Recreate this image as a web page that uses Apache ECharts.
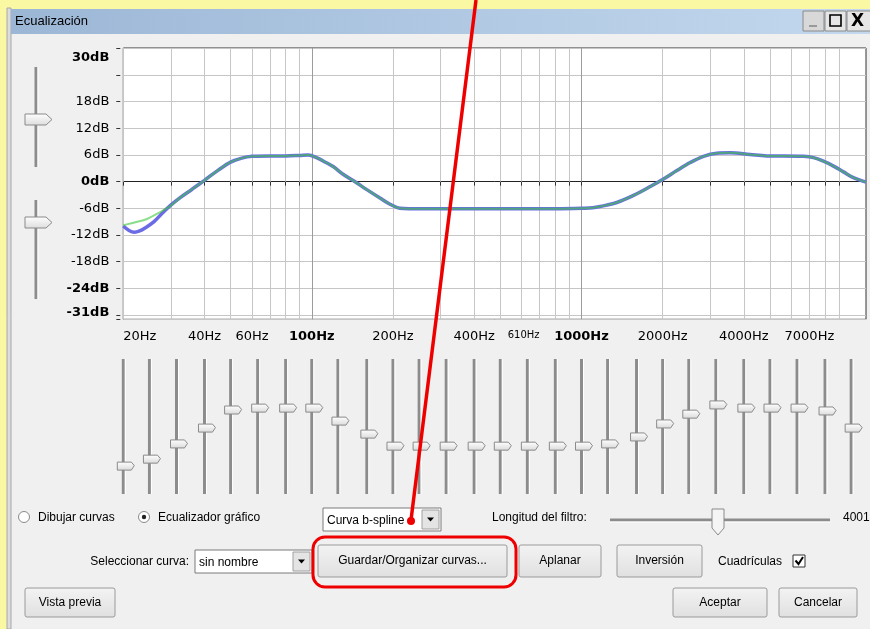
<!DOCTYPE html>
<html><head><meta charset="utf-8">
<script src="https://cdn.jsdelivr.net/npm/echarts@6/dist/echarts.min.js"></script>
<style>html,body{margin:0;padding:0;background:#f0f0f0;overflow:hidden}#c{width:870px;height:629px}</style>
</head><body><div id="c"></div>
<script>
// ---------- data ----------
const blueFreqs = [20,21,22,23,24,26,28,30,32.5,36,40,45,50,55,60,70,80,90,97,105,113,120,131,146,160,179,195,212,230,300,500,800,1016,1100,1173,1352,1560,1800,2013,2258,2531,2834,3175,3558,4220,4865,5611,6657,7250,7890,8600,9360,10190,11350];
const blueDb    = [-10.0,-11.0,-11.4,-11.1,-10.5,-9.0,-7.0,-5.3,-3.6,-1.7,0.3,2.6,4.4,5.3,5.7,5.8,5.8,5.9,6.0,5.3,4.3,3.4,1.6,-0.2,-1.8,-3.7,-5.1,-6.0,-6.1,-6.1,-6.1,-6.1,-6.0,-5.9,-5.6,-4.7,-3.1,-1.1,0.6,2.5,4.3,5.7,6.4,6.5,6.1,5.8,5.8,5.7,5.4,4.6,3.5,2.2,0.9,-0.1];
const greenFreqs = [20,21,22,24.5,27.5,30,32.5,36,40,45,50,55,60,70,80,90,97,105,113,120,131,146,160,179,195,212,230,300,500,800,1016,1100,1173,1352,1560,1800,2013,2258,2531,2834,3175,3558,4220,4865,5611,6657,7250,7890,8600,9360,10190,11350];
const greenDb    = [-9.8,-9.5,-9.2,-8.4,-6.8,-5.4,-3.6,-1.7,0.3,2.6,4.4,5.3,5.7,5.8,5.8,5.9,6.0,5.3,4.3,3.4,1.6,-0.2,-1.8,-3.7,-5.1,-6.0,-6.1,-6.1,-6.1,-6.1,-6.0,-5.9,-5.6,-4.7,-3.1,-1.1,0.6,2.5,4.3,5.7,6.4,6.5,6.1,5.8,5.8,5.7,5.4,4.6,3.5,2.2,0.9,-0.1];
const sliderFreqs = [20,25,31.5,40,50,63,80,100,125,160,200,250,315,400,500,630,800,1000,1250,1600,2000,2500,3150,4000,5000,6300,8000,10000];
const sliderDb    = [-12.5,-10.3,-5.5,-0.5,5.2,5.8,5.8,5.8,1.7,-2.4,-6.2,-6.2,-6.2,-6.2,-6.2,-6.2,-6.2,-6.2,-5.5,-3.3,0.8,3.9,6.8,5.8,5.8,5.8,4.9,-0.5];
const xTickValues  = [20,30,40,50,60,70,80,90,100,200,300,400,500,600,700,800,900,1000,2000,3000,4000,5000,6000,7000,8000,9000];
const xLabelValues = [20,40,60,100,200,400,610,1000,2000,4000,7000];
const xMajorValues = [100,1000];
const yTickValues  = [30,24,18,12,6,0,-6,-12,-18,-24,-30,-31];
const yLabelValues = [30,18,12,6,0,-6,-12,-18,-24,-31];
const yZeroValues  = [0];
const xBoldLabels = [100,1000];
const xSmallLabels = [610];
const yBoldLabels = [0,-24];

const F_MIN = 20, F_MAX = 11350, DB_MIN = -31, DB_MAX = 30.1, SL_MIN = -21.3, SL_MAX = 21.3;
const UI = '12px "Liberation Sans", Arial, sans-serif';
const AX = '"DejaVu Sans", sans-serif';

// ---------- UI helpers ----------
function txt(x, y, s, opt) {
  opt = opt || {};
  return {type:'text', x:x, y:y, z: opt.z || 5, style:{text:s, fill:opt.fill||'#000', font:opt.font||UI,
    textAlign:opt.align||'left', textVerticalAlign:'middle', align:opt.align||'left', verticalAlign:'middle'}};
}
function button(x, y, w, h, label) {
  return [
    {type:'rect', z:4, shape:{x:x, y:y, width:w, height:h, r:2}, style:{fill:{type:'linear',x:0,y:0,x2:0,y2:1,colorStops:[{offset:0,color:'#f3f3f3'},{offset:1,color:'#e0e0e0'}]}, stroke:'#9a9a9a', lineWidth:1}},
    txt(x + w/2, y + h/2, label, {align:'center'})
  ];
}
function dropdown(x, y, w, h, label) {
  return [
    {type:'rect', z:4, shape:{x:x, y:y, width:w, height:h}, style:{fill:'#fff', stroke:'#7a7a7a', lineWidth:1}},
    {type:'rect', z:4, shape:{x:x+w-19, y:y+2, width:17, height:h-4}, style:{fill:'#e4e4e4', stroke:'#a0a0a0', lineWidth:1}},
    {type:'polygon', z:5, shape:{points:[[x+w-14,y+h/2-2],[x+w-7,y+h/2-2],[x+w-10.5,y+h/2+2]]}, style:{fill:'#000'}},
    txt(x+4, y+h/2+1, label)
  ];
}
function vThumb(x, y) {
  return {type:'polygon', z:5, shape:{points:[[x-11,y-5.5],[x+10,y-5.5],[x+16,y],[x+10,y+5.5],[x-11,y+5.5]]},
    style:{fill:{type:'linear',x:0,y:0,x2:0,y2:1,colorStops:[{offset:0,color:'#ffffff'},{offset:1,color:'#dcdcdc'}]}, stroke:'#8a8a8a', lineWidth:1}};
}
function vTrack(x, y1, y2) {
  return [
    {type:'line', z:4, shape:{x1:x, y1:y1, x2:x, y2:y2}, style:{stroke:'#8c8c8c', lineWidth:3}},
    {type:'line', z:4, shape:{x1:x+2, y1:y1, x2:x+2, y2:y2}, style:{stroke:'#ffffff', lineWidth:1}}
  ];
}

const graphics = [].concat(
  [{type:'rect', z:1, shape:{x:0, y:0, width:870, height:9}, style:{fill:'#fbf8a3'}},
   {type:'rect', z:1, shape:{x:0, y:0, width:7, height:629}, style:{fill:'#fbf8a3'}},
   {type:'rect', z:1, shape:{x:7, y:8, width:4, height:621}, style:{fill:'#dcdcdc', stroke:'#a8a8a8', lineWidth:1}},
   {type:'rect', z:2, shape:{x:11, y:9, width:859, height:25}, style:{fill:{type:'linear',x:0,y:0,x2:1,y2:0,colorStops:[{offset:0,color:'#9cb7d6'},{offset:1,color:'#c3d8ee'}]}}},
   txt(15, 21.5, 'Ecualización', {font:'13px "Liberation Sans", Arial, sans-serif'}),
   {type:'rect', z:3, shape:{x:803, y:11, width:21, height:20}, style:{fill:'#d8d8d8', stroke:'#8a8a8a', lineWidth:1}},
   {type:'line', z:4, shape:{x1:809, y1:26, x2:817, y2:26}, style:{stroke:'#9a9a9a', lineWidth:2}},
   {type:'rect', z:3, shape:{x:825, y:11, width:21, height:20}, style:{fill:'#e6e6e6', stroke:'#8a8a8a', lineWidth:1}},
   {type:'rect', z:4, shape:{x:830, y:15, width:11, height:11}, style:{fill:'none', stroke:'#000', lineWidth:1.6}},
   {type:'rect', z:3, shape:{x:847, y:11, width:26, height:20}, style:{fill:'#e6e6e6', stroke:'#8a8a8a', lineWidth:1}},
   txt(851, 22, 'X', {font:'bold 17px "DejaVu Sans", sans-serif'})],
  vTrack(36, 67, 167), [vThumb(36, 119.5)],
  vTrack(36, 200, 299), [vThumb(36, 222.5)],
  [{type:'circle', z:4, shape:{cx:24, cy:517, r:5.5}, style:{fill:'#fff', stroke:'#8a8a8a', lineWidth:1}},
   txt(38, 518, 'Dibujar curvas'),
   {type:'circle', z:4, shape:{cx:144, cy:517, r:5.5}, style:{fill:'#fff', stroke:'#8a8a8a', lineWidth:1}},
   {type:'circle', z:5, shape:{cx:144, cy:517, r:2.2}, style:{fill:'#222'}},
   txt(158, 518, 'Ecualizador gráfico')],
  dropdown(323, 508, 118, 23, 'Curva b-spline'),
  [txt(492, 518, 'Longitud del filtro:'),
   {type:'line', z:4, shape:{x1:610, y1:520, x2:830, y2:520}, style:{stroke:'#8c8c8c', lineWidth:3}},
   {type:'line', z:4, shape:{x1:610, y1:522, x2:830, y2:522}, style:{stroke:'#ffffff', lineWidth:1}},
   {type:'polygon', z:5, shape:{points:[[712,509],[724,509],[724,528],[718,535],[712,528]]}, style:{fill:'#f4f4f4', stroke:'#8a8a8a', lineWidth:1}},
   txt(843, 518, '4001')],
  [txt(189, 562, 'Seleccionar curva:', {align:'right'})],
  dropdown(195, 550, 117, 23, 'sin nombre'),
  button(318, 545, 189, 32, 'Guardar/Organizar curvas...'),
  button(519, 545, 82, 32, 'Aplanar'),
  button(617, 545, 85, 32, 'Inversión'),
  [txt(718, 562, 'Cuadrículas'),
   {type:'rect', z:4, shape:{x:793, y:555, width:12, height:12}, style:{fill:'#fff', stroke:'#333', lineWidth:1}},
   {type:'polyline', z:5, shape:{points:[[795.5,560.5],[798.5,564],[803,557]]}, style:{stroke:'#000', lineWidth:2, fill:'none'}}],
  button(25, 588, 90, 29, 'Vista previa'),
  button(673, 588, 94, 29, 'Aceptar'),
  button(779, 588, 78, 29, 'Cancelar'),
  [{type:'line', z:100, shape:{x1:476, y1:0, x2:411, y2:520}, style:{stroke:'#ee0000', lineWidth:3.5}},
   {type:'circle', z:100, shape:{cx:411, cy:521, r:4}, style:{fill:'#ee0000'}},
   {type:'rect', z:100, shape:{x:313, y:537, width:203, height:50, r:12}, style:{fill:'none', stroke:'#ee0000', lineWidth:3}}]
);

const toPairs = (a, b) => a.map((v, i) => [v, b[i]]);

const chart = echarts.init(document.getElementById('c'), null, {renderer:'canvas', width:870, height:629});
chart.setOption({
  backgroundColor:'#f0f0f0',
  animation:false,
  graphic:{elements:graphics},
  grid:[
    {left:123.3, top:48, width:742.7, height:271.3, show:true, backgroundColor:'#fff', borderColor:'#333', borderWidth:1, z:0},
    {left:123.3, top:359, width:742.7, height:135, show:false}
  ],
  xAxis:[
    {type:'log', logBase:10, min:F_MIN, max:F_MAX, gridIndex:0,
     axisLine:{show:false},
     axisTick:{show:true, length:4, customValues:xTickValues, lineStyle:{color:'#333'}},
     splitLine:{show:true, lineStyle:{color:'#c6c6c6', width:1}},
     axisLabel:{show:true, customValues:xLabelValues, margin:11, color:'#000', fontFamily:AX, fontSize:13, alignMinLabel:'left',
       formatter:function(v){ v = Math.round(v); const s = v + 'Hz';
         if (xBoldLabels.indexOf(v) >= 0) return '{b|' + s + '}';
         if (xSmallLabels.indexOf(v) >= 0) return '{s|' + s + '}';
         return s; },
       rich:{b:{fontWeight:'bold', fontSize:13, fontFamily:AX, color:'#000'}, s:{fontSize:10, fontFamily:AX, color:'#000'}}}},
    {type:'log', logBase:10, min:F_MIN, max:F_MAX, gridIndex:0,
     axisLine:{show:false}, axisLabel:{show:false},
     axisTick:{show:false, customValues:xMajorValues},
     splitLine:{show:true, lineStyle:{color:'#9c9c9c', width:1}}},
    {type:'log', logBase:10, min:F_MIN, max:F_MAX, gridIndex:1, show:false}
  ],
  yAxis:[
    {type:'value', min:DB_MIN, max:DB_MAX, gridIndex:0, offset:3,
     axisLine:{show:false},
     axisTick:{show:true, length:4, customValues:yTickValues, lineStyle:{color:'#333'}},
     splitLine:{show:true, lineStyle:{color:'#c6c6c6', width:1}},
     axisLabel:{show:true, customValues:yLabelValues, margin:11, color:'#000', fontFamily:AX, fontSize:13,
       formatter:function(v){ v = Math.round(v); const s = v + 'dB';
         if (v === 30) return '{t|' + s + '}';
         if (v === -31) return '{m|' + s + '}';
         if (yBoldLabels.indexOf(v) >= 0) return '{b|' + s + '}';
         return s; },
       rich:{b:{fontWeight:'bold', fontSize:13, fontFamily:AX, color:'#000'},
             t:{fontWeight:'bold', fontSize:13, fontFamily:AX, color:'#000', padding:[18,0,0,0]},
             m:{fontWeight:'bold', fontSize:13, fontFamily:AX, color:'#000', padding:[0,0,14,0]}}}},
    {type:'value', min:DB_MIN, max:DB_MAX, gridIndex:0,
     axisLine:{show:false}, axisLabel:{show:false},
     axisTick:{show:false, customValues:yZeroValues},
     splitLine:{show:true, lineStyle:{color:'#222', width:1}}},
    {type:'value', min:SL_MIN, max:SL_MAX, gridIndex:1, show:false}
  ],
  series:[
    {type:'line', name:'curva', xAxisIndex:0, yAxisIndex:0, data:toPairs(blueFreqs, blueDb),
     showSymbol:false, smooth:0.35, lineStyle:{color:'#6b6be6', width:3.5}, z:3, silent:true},
    {type:'line', name:'respuesta', xAxisIndex:0, yAxisIndex:0, data:toPairs(greenFreqs, greenDb),
     showSymbol:false, smooth:0.35, lineStyle:{color:'#3cc83c', width:2, opacity:0.6}, z:4, silent:true},
    {type:'custom', name:'deslizadores', xAxisIndex:2, yAxisIndex:2, data:toPairs(sliderFreqs, sliderDb), silent:true, z:5,
     renderItem:function(params, api){
       const f = api.value(0), v = api.value(1);
       const top = api.coord([f, SL_MAX]), bot = api.coord([f, SL_MIN]), p = api.coord([f, v]);
       const x = p[0], y = p[1];
       return {type:'group', children:[
         {type:'line', shape:{x1:top[0], y1:top[1], x2:bot[0], y2:bot[1]}, style:{stroke:'#8c8c8c', lineWidth:3}},
         {type:'line', shape:{x1:top[0]+2, y1:top[1], x2:bot[0]+2, y2:bot[1]}, style:{stroke:'#ffffff', lineWidth:1}},
         {type:'polygon', shape:{points:[[x-6,y-4],[x+8,y-4],[x+11,y-0.5],[x+8,y+4],[x-6,y+4]]},
          style:{fill:{type:'linear',x:0,y:0,x2:0,y2:1,colorStops:[{offset:0,color:'#ffffff'},{offset:1,color:'#dadada'}]}, stroke:'#8a8a8a', lineWidth:1}}
       ]};
     }}
  ]
});
</script></body></html>
